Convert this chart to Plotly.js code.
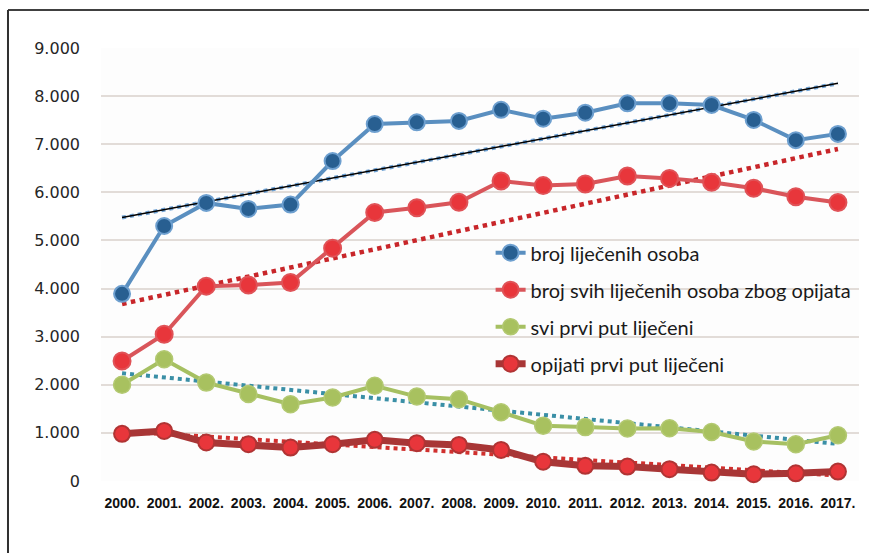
<!DOCTYPE html>
<html>
<head>
<meta charset="utf-8">
<script src="https://cdn.plot.ly/plotly-3.0.1.min.js"></script>
<style>
html,body{margin:0;padding:0;background:#ffffff;}
#chart{width:869px;height:553px;}
</style>
</head>
<body>
<div id="chart"></div>
<script>
const years = ["2000.","2001.","2002.","2003.","2004.","2005.","2006.","2007.","2008.","2009.","2010.","2011.","2012.","2013.","2014.","2015.","2016.","2017."];
const treated = [3890,5300,5780,5655,5745,6650,7420,7455,7485,7715,7530,7655,7850,7850,7815,7505,7085,7215];
const opiateTreated = [2495,3050,4050,4075,4125,4840,5580,5680,5795,6235,6140,6175,6340,6290,6210,6085,5910,5790];
const firstTreated = [2000,2530,2045,1810,1595,1735,1980,1755,1700,1430,1150,1120,1090,1095,1020,820,765,950];
const opiateFirst = [980,1040,800,765,695,765,855,785,750,645,400,315,300,245,175,140,160,195];
const names = ["broj liječenih osoba","broj svih liječenih osoba zbog opijata","svi prvi put liječeni","opijati prvi put liječeni"];
// trendline end values (first and last year)
const trendTreated = [5475,8265];
const trendOpiateTreated = [3680,6900];
const trendFirstTreated = [2240,770];
const trendOpiateFirst = [1030,115];
const yTicks = [0,1000,2000,3000,4000,5000,6000,7000,8000,9000];
const yTickText = ["0","1.000","2.000","3.000","4.000","5.000","6.000","7.000","8.000","9.000"];

const trendX = [years[0], years[years.length-1]];

const traces = [
  {x: trendX, y: trendTreated, mode:'lines', line:{color:'#6fa2d4', width:4, dash:'dot'}, showlegend:false, hoverinfo:'skip'},
  {x: trendX, y: trendTreated, mode:'lines', line:{color:'#000000', width:1.5}, showlegend:false, hoverinfo:'skip'},
  {x: trendX, y: trendOpiateTreated, mode:'lines', line:{color:'#c8262a', width:4.5, dash:'dot'}, showlegend:false, hoverinfo:'skip'},
  {x: trendX, y: trendFirstTreated, mode:'lines', line:{color:'#3a8fa6', width:4, dash:'dot'}, showlegend:false, hoverinfo:'skip'},
  {x: trendX, y: trendOpiateFirst, mode:'lines', line:{color:'#d0302e', width:4, dash:'dot'}, showlegend:false, hoverinfo:'skip'},
  {x: years, y: treated, name: names[0], legendgroup:'a', mode:'lines+markers', cliponaxis:false,
   line:{color:'#5a8fc0', width:4}, marker:{size:16, color:'#285f91', line:{color:'#6d9fcf', width:2}}},
  {x: years, y: opiateTreated, name: names[1], legendgroup:'b', mode:'lines+markers', cliponaxis:false,
   line:{color:'#d9555a', width:4}, marker:{size:17, color:'#e8363b', line:{color:'#e05257', width:2}}},
  {x: years, y: firstTreated, name: names[2], legendgroup:'c', mode:'lines+markers', cliponaxis:false,
   line:{color:'#a6c062', width:4}, marker:{size:17, color:'#a8c15f', line:{color:'#b3c972', width:1.5}}},
  {x: years, y: opiateFirst, name: names[3], legendgroup:'d', mode:'lines+markers', cliponaxis:false,
   line:{color:'#a83636', width:7}, marker:{size:16, color:'#e8363b', line:{color:'#b03434', width:2}}}
];

const layout = {
  width: 869, height: 553,
  paper_bgcolor:'#ffffff', plot_bgcolor:'#fdfdfd',
  margin:{l:101, r:10, t:48, b:72},
  showlegend:true,
  legend:{x:0.514, y:0.399, xanchor:'left', yanchor:'middle', bgcolor:'rgba(0,0,0,0)',
          font:{family:'Lato, "Liberation Sans", sans-serif', size:20, color:'#1a1a1a'},
          tracegroupgap:8, traceorder:'grouped'},
  xaxis:{type:'category', categoryorder:'array', categoryarray:years, range:[-0.5,17.5],
         showgrid:false, zeroline:false, showline:false, ticks:'',
         tickfont:{family:'"Liberation Sans", Arial, sans-serif', size:14, color:'#111111', weight:'bold'},
         ticklabelstandoff:12},
  yaxis:{range:[0,9000], tickvals:yTicks, ticktext:yTickText, showgrid:true, gridcolor:'#e2dcd8', gridwidth:2,
         zeroline:false, showline:false, ticks:'',
         tickfont:{family:'"DejaVu Sans", sans-serif', size:16, color:'#262626'},
         ticklabelstandoff:20},
  shapes:[
    {type:'line', xref:'paper', yref:'paper', x0:-0.1227, x1:1.02, y0:1.088, y1:1.088, line:{color:'#404040', width:2}},
    {type:'line', xref:'paper', yref:'paper', x0:-0.1227, x1:-0.1227, y0:1.088, y1:-0.2, line:{color:'#303030', width:2}}
  ]
};

Plotly.newPlot('chart', traces, layout, {displayModeBar:false, staticPlot:true});
</script>
</body>
</html>
